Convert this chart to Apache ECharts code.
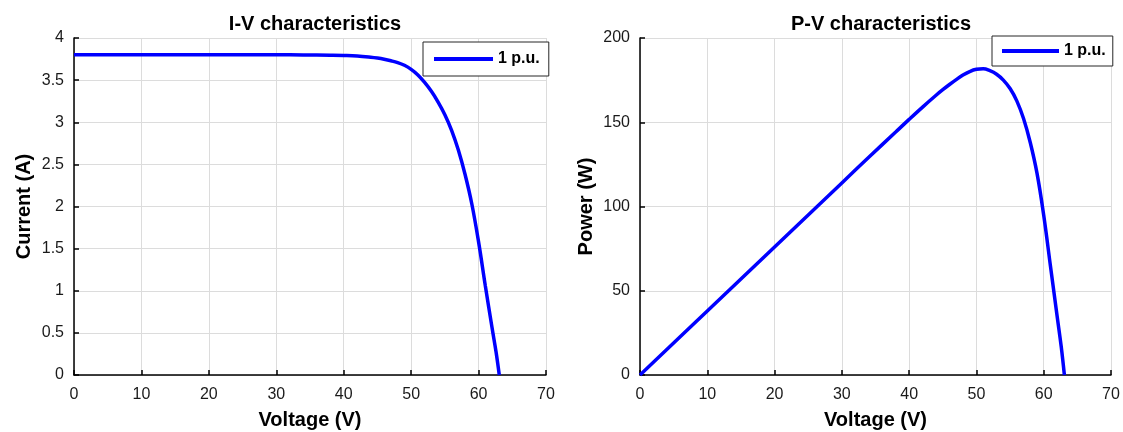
<!DOCTYPE html>
<html>
<head>
<meta charset="utf-8">
<script src="https://cdn.jsdelivr.net/npm/echarts@6/dist/echarts.min.js"></script>
<style>
  html, body { margin: 0; padding: 0; background: #fff; }
  #main { width: 1123px; height: 432px; }
</style>
</head>
<body>
<div id="main"></div>
<script>
    // values
    var voltage = [0, 10, 20, 30, 34, 38, 40, 42, 44, 45, 46, 47, 48, 49, 50, 51, 52, 53, 54, 55, 56, 57, 58, 59, 60, 61, 62, 62.6, 63.07];
    var current = [3.80, 3.80, 3.80, 3.80, 3.799, 3.795, 3.792, 3.786, 3.772, 3.762, 3.748, 3.73, 3.708, 3.676, 3.628, 3.562, 3.474, 3.368, 3.24, 3.09, 2.905, 2.67, 2.38, 2.03, 1.58, 1.06, 0.56, 0.27, 0];
    var power = [0, 38, 76, 114, 129.2, 144.2, 151.7, 159, 166, 169.3, 172.4, 175.3, 178, 180.1, 181.4, 181.7, 180.6, 178.5, 175, 170, 162.7, 152.2, 138, 119.8, 94.8, 64.7, 34.7, 16.9, 0];
    var seriesName = '1 p.u.';

    function pairs(xs, ys) {
        return xs.map(function (x, i) { return [x, ys[i]]; });
    }

    var font = 'Liberation Sans, Arial, sans-serif';
    var gridColor = '#dcdcdc';
    var nameStyle = { fontFamily: font, fontSize: 20, fontWeight: 'bold', color: '#000' };

    function xAxis(idx) {
        return {
            gridIndex: idx,
            type: 'value',
            min: 0, max: 70, interval: 10,
            name: 'Voltage (V)',
            nameLocation: 'middle',
            nameGap: 35,
            nameTextStyle: nameStyle,
            axisLine: { onZero: false, lineStyle: { color: '#000', width: 1.5 } },
            axisTick: { inside: true, length: 5, lineStyle: { color: '#000', width: 1.5 } },
            axisLabel: { fontFamily: font, fontSize: 16, color: '#1a1a1a', margin: 12 },
            splitLine: { show: true, lineStyle: { color: gridColor, width: 1 } }
        };
    }

    function yAxis(idx, max, interval, name, gap) {
        return {
            gridIndex: idx,
            type: 'value',
            min: 0, max: max, interval: interval,
            name: name,
            nameLocation: 'middle',
            nameGap: gap,
            nameTextStyle: nameStyle,
            axisLine: { show: true, onZero: false, lineStyle: { color: '#000', width: 1.5 } },
            axisTick: { show: true, inside: true, length: 5, lineStyle: { color: '#000', width: 1.5 } },
            axisLabel: { fontFamily: font, fontSize: 16, color: '#1a1a1a', margin: 10 },
            splitLine: { show: true, lineStyle: { color: gridColor, width: 1 } }
        };
    }

    function legend(left, top, lineW, pad) {
        return {
            left: left, top: top,
            data: [seriesName],
            selectedMode: false,
            icon: 'rect',
            itemWidth: lineW,
            itemHeight: 4,
            padding: pad,
            borderColor: '#262626',
            borderWidth: 1,
            backgroundColor: '#fff',
            textStyle: { fontFamily: font, fontSize: 16, fontWeight: 'bold', color: '#000', lineHeight: 18 }
        };
    }

    var myChart = echarts.init(document.getElementById('main'));

    var option = {
        backgroundColor: '#fff',
        animation: false,
        title: [{
            text: 'I-V characteristics',
            left: 310, top: 9, textAlign: 'center',
            textStyle: nameStyle
        }, {
            text: 'P-V characteristics',
            left: 876, top: 9, textAlign: 'center',
            textStyle: nameStyle
        }],
        legend: [
            legend(423, 42, 59, [8, 9, 8, 11]),
            legend(992, 36, 57, [6, 7, 6, 10])
        ],
        grid: [
            { left: 74, right: 577, top: 38, bottom: 57, outerBoundsMode: 'none' },
            { left: 640, right: 12, top: 38, bottom: 57, outerBoundsMode: 'none' }
        ],
        xAxis: [xAxis(0), xAxis(1)],
        yAxis: [
            yAxis(0, 4, 0.5, 'Current (A)', 40),
            yAxis(1, 200, 50, 'Power (W)', 44)
        ],
        series: [{
                name: seriesName,
                type: 'line',
                xAxisIndex: 0, yAxisIndex: 0,
                data: pairs(voltage, current),
                smooth: 0.4,
                showSymbol: false,
                lineStyle: { color: '#0000ff', width: 3.5 },
                itemStyle: { color: '#0000ff' },
                z: 3
            },
            {
                name: seriesName,
                type: 'line',
                xAxisIndex: 1, yAxisIndex: 1,
                data: pairs(voltage, power),
                smooth: 0.4,
                showSymbol: false,
                lineStyle: { color: '#0000ff', width: 3.5 },
                itemStyle: { color: '#0000ff' },
                z: 3
            }
        ]
    };

    myChart.setOption(option);
</script>
</body>
</html>
